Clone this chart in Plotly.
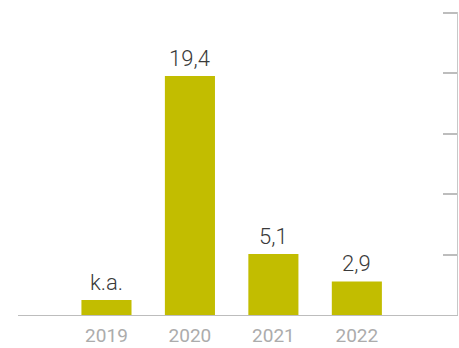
import plotly.graph_objects as go

years = ["2019", "2020", "2021", "2022"]
values = [1.4, 19.4, 5.1, 2.9]   # 2019: placeholder bar (no data)
labels = ["k.a.", "19,4", "5,1", "2,9"]
y_min, y_max = 0.2, 24.55
yticks = [0.2, 5.05, 9.9, 14.76, 19.61, 24.46]

x = list(range(len(years)))

fig = go.Figure(go.Bar(
    x=x, y=values,
    marker=dict(color="#c2bd00", line=dict(width=0)),
    width=0.6,
))

for xi, v, t in zip(x, values, labels):
    fig.add_annotation(
        x=xi, y=v, text=t, showarrow=False, yanchor="bottom", yshift=3,
        font=dict(family="Roboto", size=22, color="#3a3a3a", weight=300),
    )

fig.update_layout(
    width=459, height=348,
    margin=dict(l=18, r=2, t=12, b=33, autoexpand=False),
    paper_bgcolor="white", plot_bgcolor="white",
    showlegend=False,
    xaxis=dict(
        range=[-1.06, 4.2], tickmode="array", tickvals=x, ticktext=years,
        showgrid=False, zeroline=False, showline=True, linecolor="#bdbdbd", linewidth=1,
        ticks="", ticklabelstandoff=3, automargin=False,
        tickfont=dict(family="Roboto", size=19, color="#acacac"),
    ),
    yaxis=dict(
        range=[y_min, y_max], side="right", tickmode="array", tickvals=yticks,
        showticklabels=False, showgrid=False, zeroline=False, automargin=False,
        showline=True, linecolor="#c8c8c8", linewidth=1,
        ticks="inside", ticklen=14, tickcolor="#bdbdbd", tickwidth=2,
    ),
)

fig.write_html("out.html")
